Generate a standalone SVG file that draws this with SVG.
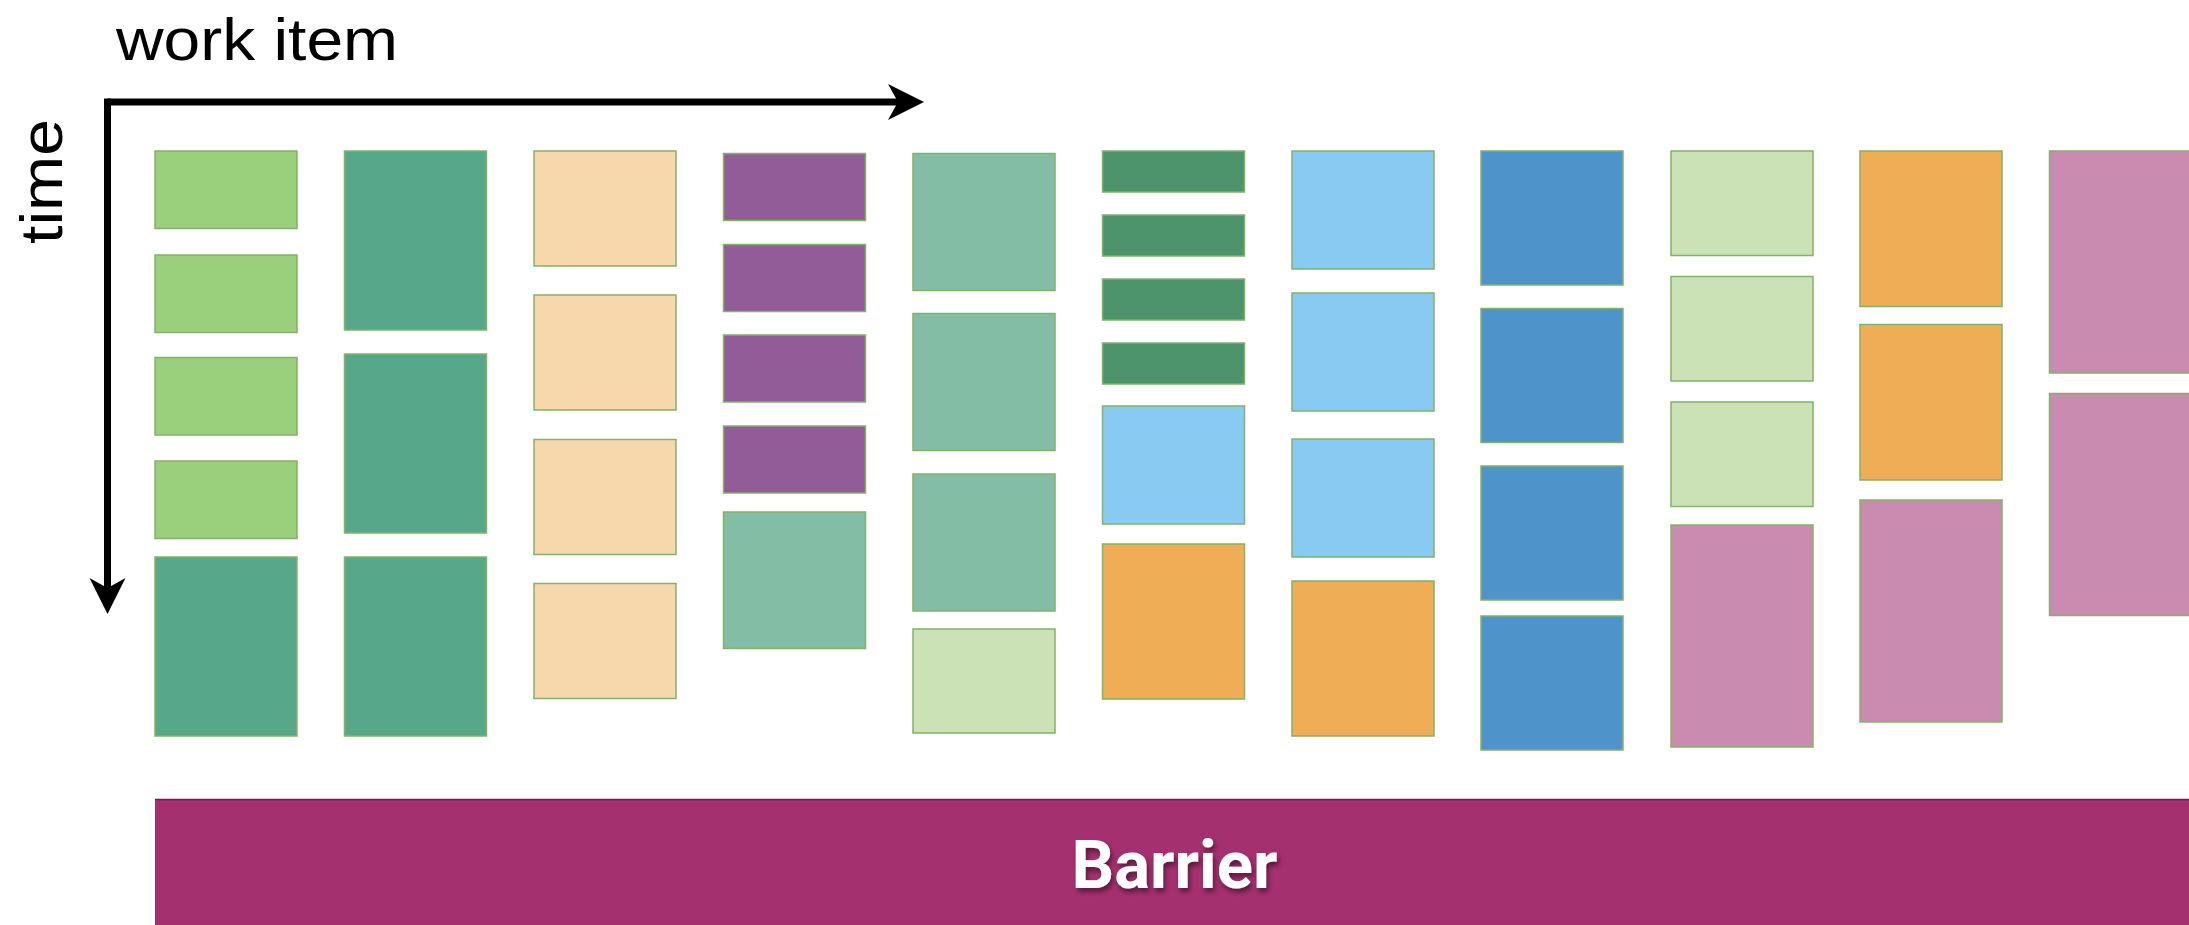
<svg xmlns="http://www.w3.org/2000/svg" width="2189" height="925" viewBox="0 0 2189 925">
<style>
.b{stroke:#82B366;stroke-width:1.5}
.lg{fill:#9ACF7C}.dg{fill:#57A88A}.pe{fill:#F7D8AC}.pu{fill:#925C99}.tl{fill:#84BDA6}
.fg{fill:#4D936C}.lb{fill:#88CAF2}.or{fill:#EFAD55}.bl{fill:#4E93C9}.pg{fill:#CAE2B6}.pk{fill:#C98BB0}
.lbl{font-family:"Liberation Sans",Arial,sans-serif;font-size:60px;fill:#000;font-weight:300}
.axis{fill:none;stroke:#000;stroke-width:7}
</style>
<defs>
<marker id="ah" markerUnits="userSpaceOnUse" markerWidth="44" markerHeight="44" viewBox="-38 -22 44 44" refX="-26" refY="0" orient="auto">
<path d="M0,0 L-36,-18 L-26,0 L-36,18 Z" fill="#000"/>
</marker>
<filter id="sh" x="-10%" y="-20%" width="130%" height="150%">
<feDropShadow dx="2" dy="4" stdDeviation="2.5" flood-color="#000" flood-opacity="0.45"/>
</filter>
</defs>
<rect width="2189" height="925" fill="#fff"/>
<text class="lbl" x="116" y="60" textLength="282" lengthAdjust="spacingAndGlyphs">work item</text>
<text class="lbl" transform="translate(62,181.5) rotate(-90)" text-anchor="middle" textLength="125" lengthAdjust="spacingAndGlyphs">time</text>
<g id="connectors">
<path class="axis" d="M107.5,102 L898,102" marker-end="url(#ah)"/>
<path class="axis" d="M107.5,98.5 L107.5,588" marker-end="url(#ah)"/>
</g>
<g id="col1">
<g id="c1r1"><rect class="b lg" x="155" y="151" width="142" height="77.5"/></g>
<g id="c1r2"><rect class="b lg" x="155" y="255" width="142" height="77.5"/></g>
<g id="c1r3"><rect class="b lg" x="155" y="357.5" width="142" height="77.5"/></g>
<g id="c1r4"><rect class="b lg" x="155" y="461" width="142" height="77.5"/></g>
<g id="c1r5"><rect class="b dg" x="155" y="557" width="142" height="179"/></g>
</g>
<g id="col2">
<g id="c2r1"><rect class="b dg" x="344.5" y="151" width="142" height="179"/></g>
<g id="c2r2"><rect class="b dg" x="344.5" y="354" width="142" height="179"/></g>
<g id="c2r3"><rect class="b dg" x="344.5" y="557" width="142" height="179"/></g>
</g>
<g id="col3">
<g id="c3r1"><rect class="b pe" x="534" y="151" width="142" height="115"/></g>
<g id="c3r2"><rect class="b pe" x="534" y="295" width="142" height="115"/></g>
<g id="c3r3"><rect class="b pe" x="534" y="439.5" width="142" height="115"/></g>
<g id="c3r4"><rect class="b pe" x="534" y="583.5" width="142" height="115"/></g>
</g>
<g id="col4">
<g id="c4r1"><rect class="b pu" x="723.5" y="153.5" width="142" height="67"/></g>
<g id="c4r2"><rect class="b pu" x="723.5" y="244.5" width="142" height="67"/></g>
<g id="c4r3"><rect class="b pu" x="723.5" y="335" width="142" height="67"/></g>
<g id="c4r4"><rect class="b pu" x="723.5" y="426" width="142" height="67"/></g>
<g id="c4r5"><rect class="b tl" x="723.5" y="512" width="142" height="136.5"/></g>
</g>
<g id="col5">
<g id="c5r1"><rect class="b tl" x="913" y="153.5" width="142" height="137"/></g>
<g id="c5r2"><rect class="b tl" x="913" y="313.5" width="142" height="137"/></g>
<g id="c5r3"><rect class="b tl" x="913" y="474" width="142" height="137"/></g>
<g id="c5r4"><rect class="b pg" x="913" y="629" width="142" height="104"/></g>
</g>
<g id="col6">
<g id="c6r1"><rect class="b fg" x="1102.5" y="151" width="142" height="41"/></g>
<g id="c6r2"><rect class="b fg" x="1102.5" y="215" width="142" height="41"/></g>
<g id="c6r3"><rect class="b fg" x="1102.5" y="279" width="142" height="41"/></g>
<g id="c6r4"><rect class="b fg" x="1102.5" y="343" width="142" height="41"/></g>
<g id="c6r5"><rect class="b lb" x="1102.5" y="406" width="142" height="118"/></g>
<g id="c6r6"><rect class="b or" x="1102.5" y="544" width="142" height="155"/></g>
</g>
<g id="col7">
<g id="c7r1"><rect class="b lb" x="1292" y="151" width="142" height="118"/></g>
<g id="c7r2"><rect class="b lb" x="1292" y="293" width="142" height="118"/></g>
<g id="c7r3"><rect class="b lb" x="1292" y="439" width="142" height="118"/></g>
<g id="c7r4"><rect class="b or" x="1292" y="581" width="142" height="155"/></g>
</g>
<g id="col8">
<g id="c8r1"><rect class="b bl" x="1481" y="151" width="142" height="134"/></g>
<g id="c8r2"><rect class="b bl" x="1481" y="308.5" width="142" height="134"/></g>
<g id="c8r3"><rect class="b bl" x="1481" y="466" width="142" height="134"/></g>
<g id="c8r4"><rect class="b bl" x="1481" y="616" width="142" height="134"/></g>
</g>
<g id="col9">
<g id="c9r1"><rect class="b pg" x="1671" y="151" width="142" height="104.5"/></g>
<g id="c9r2"><rect class="b pg" x="1671" y="276.5" width="142" height="104.5"/></g>
<g id="c9r3"><rect class="b pg" x="1671" y="402" width="142" height="104.5"/></g>
<g id="c9r4"><rect class="b pk" x="1671" y="525" width="142" height="222"/></g>
</g>
<g id="col10">
<g id="c10r1"><rect class="b or" x="1860" y="151" width="142" height="155.5"/></g>
<g id="c10r2"><rect class="b or" x="1860" y="324.5" width="142" height="155.5"/></g>
<g id="c10r3"><rect class="b pk" x="1860" y="500" width="142" height="222"/></g>
</g>
<g id="col11">
<g id="c11r1"><rect class="b pk" x="2049.5" y="151" width="142" height="222"/></g>
<g id="c11r2"><rect class="b pk" x="2049.5" y="393.5" width="142" height="222"/></g>
</g>
<g id="barrier">
<rect x="155" y="799" width="2040" height="130" fill="#A4306F"/>
<line x1="155" y1="799.5" x2="2195" y2="799.5" stroke="#6E1F4A" stroke-width="1.5"/>
<text x="1174.5" y="888" text-anchor="middle" font-family="Roboto,'Liberation Sans',sans-serif" font-weight="bold" font-size="67" fill="#fff" filter="url(#sh)">Barrier</text>
</g>
</svg>
